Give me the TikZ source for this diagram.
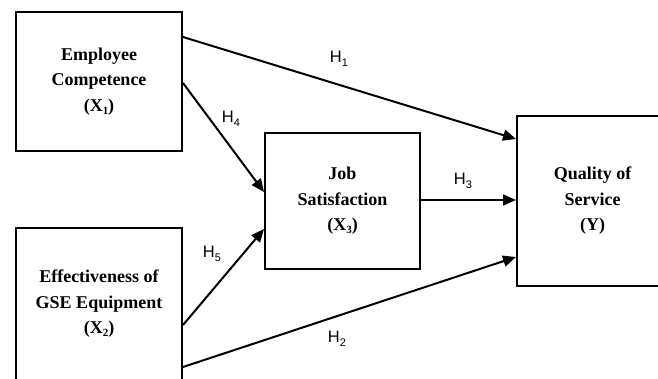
\documentclass[tikz,border=0pt]{standalone}
\usepackage{fontspec}
\setmainfont{Liberation Serif}
\newfontfamily\hypfont{Liberation Sans}
\usetikzlibrary{arrows.meta}

% lowered index, as in X1 or H1
\newcommand{\lowidx}[2][3pt]{\raisebox{-#1}{\fontsize{11}{11}\selectfont #2}}

\tikzset{
  varbox/.style={draw, line width=2pt, align=center, inner sep=0pt,
    font=\bfseries\fontsize{18}{25.5}\selectfont},
  link/.style={line width=2pt, -{Triangle[length=13pt,width=11pt]}},
  hyp/.style={font=\hypfont\fontsize{16.5}{16.5}\selectfont, inner sep=0pt}
}

\begin{document}
\begin{tikzpicture}[x=1pt,y=-1pt]
\useasboundingbox (0,0) rectangle (658,378);

% variables
\node[varbox, minimum width=166pt, minimum height=139pt] (emp) at (99,81.5)
  {Employee\\Competence\\(X\lowidx{1})};
\node[varbox, minimum width=166pt, minimum height=152pt] (gse) at (99,304)
  {Effectiveness of\\GSE Equipment\\(X\lowidx{2})};
\node[varbox, minimum width=155pt, minimum height=136pt] (job) at (342.5,201)
  {Job\\Satisfaction\\(X\lowidx{3})};
\node[varbox, minimum width=151pt, minimum height=170pt] (qos) at (592.5,201)
  {Quality of\\Service\\(Y)};

% hypotheses
\draw[link] ([yshift=44.5pt]emp.east) -- ([yshift=62pt]qos.west);
\draw[link] ([yshift=-63pt]gse.east) -- ([yshift=-56pt]qos.west);
\draw[link] ([yshift=1pt]job.east) -- ([yshift=1pt]qos.west);
\draw[link] ([yshift=-1.5pt]emp.east) -- ([yshift=9pt]job.west);
\draw[link] ([yshift=-21pt]gse.east) -- ([yshift=-28pt]job.west);

\node[hyp] (h1) at (339,59) {H\lowidx[4pt]{1}};
\node[hyp] (h2) at (337,339) {H\lowidx[4pt]{2}};
\node[hyp] (h3) at (463,181) {H\lowidx[4pt]{3}};
\node[hyp] (h4) at (231,119) {H\lowidx[4pt]{4}};
\node[hyp] (h5) at (212,254) {H\lowidx[4pt]{5}};
\end{tikzpicture}
\end{document}
